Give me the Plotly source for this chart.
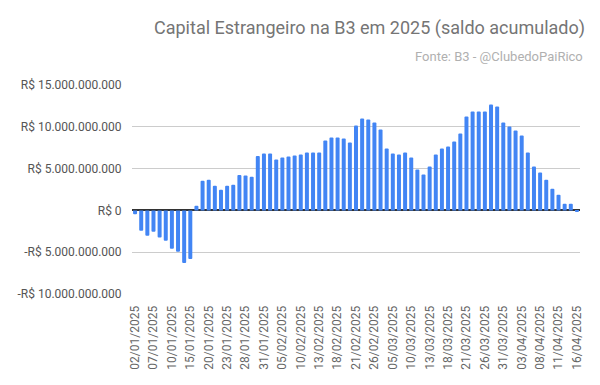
import plotly.graph_objects as go

datas = [
    "02/01/2025", "03/01/2025", "06/01/2025", "07/01/2025", "08/01/2025", "09/01/2025", "10/01/2025",
    "13/01/2025", "14/01/2025", "15/01/2025", "16/01/2025", "17/01/2025", "20/01/2025", "21/01/2025",
    "22/01/2025", "23/01/2025", "24/01/2025", "27/01/2025", "28/01/2025", "29/01/2025", "30/01/2025",
    "31/01/2025",
    "03/02/2025", "04/02/2025", "05/02/2025", "06/02/2025", "07/02/2025", "10/02/2025", "11/02/2025",
    "12/02/2025", "13/02/2025", "14/02/2025", "17/02/2025", "18/02/2025", "19/02/2025", "20/02/2025",
    "21/02/2025", "24/02/2025", "25/02/2025", "26/02/2025", "27/02/2025", "28/02/2025",
    "05/03/2025", "06/03/2025", "07/03/2025", "10/03/2025", "11/03/2025", "12/03/2025", "13/03/2025",
    "14/03/2025", "17/03/2025", "18/03/2025", "19/03/2025", "20/03/2025", "21/03/2025", "24/03/2025",
    "25/03/2025", "26/03/2025", "27/03/2025", "28/03/2025", "31/03/2025",
    "01/04/2025", "02/04/2025", "03/04/2025", "04/04/2025", "07/04/2025", "08/04/2025", "09/04/2025",
    "10/04/2025", "11/04/2025", "14/04/2025", "15/04/2025", "16/04/2025",
]

# saldo acumulado em bilhões de R$
saldo_bi = [
    -0.45, -2.44, -3.04, -2.56, -3.24, -3.64, -4.60, -4.96, -6.28, -5.80,
    0.56, 3.56, 3.68, 2.96, 2.48, 2.96, 3.08, 4.24, 4.16, 4.04,
    6.52, 6.80, 6.80, 6.08, 6.32, 6.44, 6.56, 6.68, 6.92, 6.92,
    6.92, 8.36, 8.72, 8.72, 8.60, 8.12, 10.16, 11.00, 10.88, 10.52,
    9.68, 7.40, 6.80, 6.68, 6.92, 6.32, 4.88, 4.28, 5.24, 6.68,
    7.40, 7.64, 8.24, 9.20, 11.24, 11.84, 11.84, 11.84, 12.68, 12.44,
    10.52, 10.04, 9.56, 8.96, 6.92, 5.24, 4.52, 3.68, 2.60, 1.88,
    0.80, 0.80, -0.20,
]
saldo = [v * 1e9 for v in saldo_bi]

x_ticks = datas[::3]

y_vals = [-10e9, -5e9, 0, 5e9, 10e9, 15e9]
y_text = ["-R$ 10.000.000.000", "-R$ 5.000.000.000", "R$ 0",
          "R$ 5.000.000.000", "R$ 10.000.000.000", "R$ 15.000.000.000"]

titulo = "Capital Estrangeiro na B3 em 2025 (saldo acumulado)"
fonte = "Fonte: B3 - @ClubedoPaiRico"

fig = go.Figure(go.Bar(
    x=datas, y=saldo,
    marker=dict(color="#4285F4", line=dict(width=0), cornerradius=2),
))

L, R, T, B = 132, 19.5, 85, 91
W, H = 600, 385
pw = W - L - R
ph = H - T - B

fig.update_layout(
    width=W, height=H,
    margin=dict(l=L, r=R, t=T, b=B, pad=0),
    paper_bgcolor="white", plot_bgcolor="white",
    font=dict(family="Roboto", size=12, color="#666666"),
    bargap=0.35,
    showlegend=False,
    xaxis=dict(
        type="category", tickmode="array", tickvals=x_ticks, ticktext=x_ticks,
        tickangle=-90, showgrid=False, ticks="outside", ticklen=6,
        tickcolor="rgba(0,0,0,0)", tickfont=dict(size=12, color="#666666"),
        showline=False, fixedrange=True, automargin=False,
    ),
    yaxis=dict(
        range=[-10e9, 15e9], tickmode="array", tickvals=y_vals, ticktext=y_text,
        showgrid=True, gridcolor="#cccccc", gridwidth=1,
        zeroline=True, zerolinecolor="#333333", zerolinewidth=1.5,
        ticks="outside", ticklen=7, tickcolor="rgba(0,0,0,0)",
        tickfont=dict(size=12, color="#555555"), showline=False, automargin=False,
    ),
    annotations=[
        dict(text=titulo, xref="paper", yref="paper",
             x=(588 - L) / pw, y=(H - B - 28) / ph, xanchor="right", yanchor="middle",
             showarrow=False, font=dict(family="Roboto", size=18, color="#757575")),
        dict(text=fonte, xref="paper", yref="paper",
             x=(586 - L) / pw, y=(H - B - 57) / ph, xanchor="right", yanchor="middle",
             showarrow=False, font=dict(family="Roboto", size=13, color="#b0b0b0")),
    ],
)

fig.write_html("out.html", config={"displayModeBar": False},
               post_script="document.body.style.margin='0';")
